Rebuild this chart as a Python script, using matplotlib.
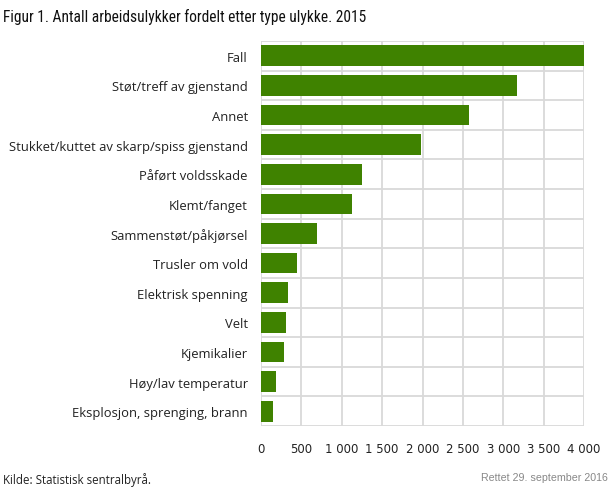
import matplotlib
matplotlib.use("Agg")
import matplotlib.pyplot as plt
from matplotlib import font_manager

names = {f.name for f in font_manager.fontManager.ttflist}
title_font = "Roboto"
for cand in ["Liberation Sans Narrow", "Roboto Condensed", "Open Sans Condensed", "Noto Sans Condensed"]:
    if cand in names:
        title_font = cand
        break

categories = ["Fall", "Støt/treff av gjenstand", "Annet",
              "Stukket/kuttet av skarp/spiss gjenstand", "Påført voldsskade",
              "Klemt/fanget", "Sammenstøt/påkjørsel", "Trusler om vold",
              "Elektrisk spenning", "Velt", "Kjemikalier",
              "Høy/lav temperatur", "Eksplosjon, sprenging, brann"]
values = [3995, 3170, 2576, 1981, 1251, 1127, 693, 446, 334, 310, 285, 186, 149]
xticks = [0, 500, 1000, 1500, 2000, 2500, 3000, 3500, 4000]
xticklabels = ["0", "500", "1 000", "1 500", "2 000", "2 500", "3 000", "3 500", "4 000"]

fig = plt.figure(figsize=(6.10, 4.89), dpi=100)
ax = fig.add_axes([261/610, 1-427/489, 323/610, 385/489])
n = len(categories)
y = list(range(n))
ax.barh(y, values, height=0.7, color="#3f8200", zorder=3)
ax.set_xlim(0, 4000)
ax.set_ylim(n-0.5, -0.5)
grid_c = "#d9d9d9"
for t in xticks:
    ax.axvline(t, color=grid_c, lw=1.3, zorder=1)
for b in range(n+1):
    ax.axhline(b-0.5, color=grid_c, lw=1.3, zorder=1)
for s in ax.spines.values():
    s.set_visible(False)
ax.set_yticks(y)
ax.set_yticklabels(categories, fontfamily="Open Sans", fontsize=9.4, color="#222222")
ax.set_xticks(xticks)
ax.set_xticklabels(xticklabels, fontfamily="DejaVu Sans", fontsize=8.5, color="#222222")
ax.tick_params(axis="y", length=0, pad=9.5)
ax.tick_params(axis="x", length=0, pad=11.5)

title = fig.text(3/610, 1-17/489, "Figur 1. Antall arbeidsulykker fordelt etter type ulykke. 2015",
                 fontfamily=title_font, fontsize=12, va="center", ha="left", color="#111111")
fig.canvas.draw()
w = title.get_window_extent().width
title.set_fontsize(12 * 363 / w)

fig.text(3/610, 1-480/489, "Kilde: Statistisk sentralbyrå.", fontfamily="Open Sans",
         fontsize=8.3, va="center", ha="left", color="#222222")
fig.text(608/610, 1-478/489, "Rettet 29. september 2016", fontfamily="Liberation Sans",
         fontsize=7.7, va="center", ha="right", color="#888888")
fig.savefig("out.png", dpi=100)
